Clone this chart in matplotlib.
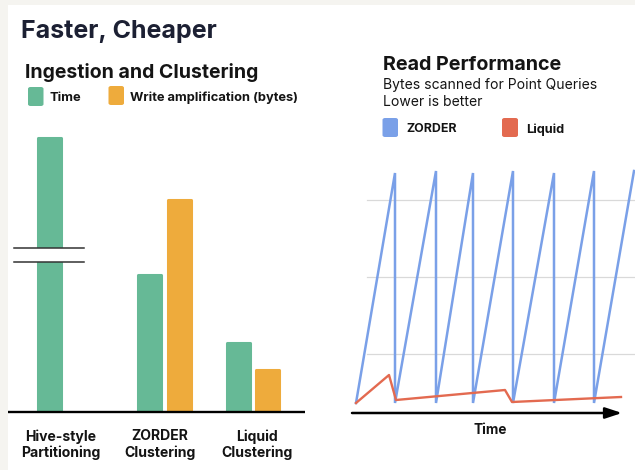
import matplotlib
matplotlib.use("Agg")
import matplotlib.pyplot as plt
from matplotlib.patches import Rectangle, FancyBboxPatch
import numpy as np

# ---------------- data ----------------
categories = ["Hive-style\nPartitioning", "ZORDER\nClustering", "Liquid\nClustering"]
time_vals = [276, 139, 71]          # Hive bar is drawn with an axis break
write_vals = [None, 214, 44]        # no write-amplification bar for Hive

zorder_t = [0, 39, 39, 80, 80, 117, 117, 157, 157, 198, 198, 238, 238, 278]
zorder_y = [10, 240, 10, 242, 10, 240, 10, 242, 10, 240, 10, 242, 10, 242]
liquid_t = [0, 33, 40, 149, 156, 265]
liquid_y = [10, 38, 13, 23, 11, 16]

gridlines = [59, 136, 213]

# ---------------- style ----------------
GREEN = "#66b996"
ORANGE = "#eeab3c"
BLUE = "#7aa0e8"
RED = "#e36a50"
NAVY = "#1c2033"
INK = "#141414"
FONT = ["Inter", "DejaVu Sans"]
plt.rcParams["font.family"] = FONT

W, H = 635, 470
fig = plt.figure(figsize=(W / 100, H / 100), dpi=100)
fig.patch.set_facecolor("white")


def px(x, y):
    return x / W, 1 - y / H


def ftext(x, y, s, **kw):
    fx, fy = px(x, y)
    kw.setdefault("va", "baseline")
    kw.setdefault("color", INK)
    fig.text(fx, fy, s, **kw)


def fbox(x0, y0, x1, y1, color):
    fx0, fy1 = px(x0, y1)
    fx1, fy0 = px(x1, y0)
    fig.patches.append(FancyBboxPatch((fx0, fy1), fx1 - fx0, fy0 - fy1,
                                      boxstyle="round,pad=0,rounding_size=0.004",
                                      transform=fig.transFigure, facecolor=color,
                                      edgecolor="none"))


# beige frame strips
fig.patches.append(Rectangle((0, 0), 8 / W, 1, transform=fig.transFigure,
                             facecolor="#f5f4f0", edgecolor="none", zorder=-5))
fig.patches.append(Rectangle((0, 1 - 5 / H), 1, 5 / H, transform=fig.transFigure,
                             facecolor="#f5f4f0", edgecolor="none", zorder=-5))

# titles
ftext(21, 38, "Faster, Cheaper", fontsize=18.0, fontweight="bold", color=NAVY)
ftext(25, 77.5, "Ingestion and Clustering", fontsize=14.0, fontweight="bold", color=INK)
ftext(383, 69.5, "Read Performance", fontsize=14.2, fontweight="bold", color=INK)
ftext(383, 88.5, "Bytes scanned for Point Queries", fontsize=10.05, color=INK)
ftext(383, 106, "Lower is better", fontsize=10.05, color=INK)

# legends
fbox(28, 87, 43.5, 106, GREEN)
ftext(50, 101, "Time", fontsize=9.3, fontweight="bold")
fbox(108.5, 86, 124, 105, ORANGE)
ftext(130, 101, "Write amplification (bytes)", fontsize=9.3, fontweight="bold")

fbox(382.5, 118, 398, 137, BLUE)
ftext(406, 132.5, "ZORDER", fontsize=8.9, fontweight="bold")
fbox(502, 118, 518, 137, RED)
ftext(526, 132.5, "Liquid", fontsize=9.2, fontweight="bold")

# ---------------- left: bar chart ----------------
axL = fig.add_axes([8 / W, (H - 412) / H, 302 / W, 312 / H])
axL.set_xlim(8, 310)
axL.set_ylim(0, 312)
axL.axis("off")

group_x = [49, 164.5, 253]
bw = 26
off = 14.75
for i, (t, w) in enumerate(zip(time_vals, write_vals)):
    if w is None:
        xs_t = group_x[i]
    else:
        xs_t = group_x[i] - off
        axL.bar(group_x[i] + off, w - 1.5, width=bw - 3, color=ORANGE,
                edgecolor=ORANGE, linewidth=2.2, joinstyle="round", zorder=2)
    axL.bar(xs_t, t - 1.5, width=bw - 3, color=GREEN, edgecolor=GREEN,
            linewidth=2.2, joinstyle="round", zorder=2)

# axis break on Hive bar
axL.add_patch(Rectangle((30, 150), 40, 14, facecolor="white", edgecolor="none", zorder=3))
for yb in (150, 164):
    axL.plot([14, 84], [yb, yb], color="#333333", lw=1.1, zorder=4)

# baseline
axL.plot([8, 305], [0, 0], color="black", lw=1.7, zorder=5, clip_on=False,
         solid_capstyle="butt")

label_x = [61, 160, 257]
for lx, cat in zip(label_x, categories):
    l1, l2 = cat.split("\n")
    ftext(lx, 440.5, l1, fontsize=10.1, fontweight="bold", ha="center")
    ftext(lx, 457.5, l2, fontsize=10.1, fontweight="bold", ha="center")

# ---------------- right: line chart ----------------
axR = fig.add_axes([345 / W, (H - 413) / H, 290 / W, 263 / H])
axR.set_xlim(-11, 279)
axR.set_ylim(0, 263)
axR.axis("off")

for g in gridlines:
    axR.axhline(g, xmin=22 / 290, xmax=1, color="#d9d9d9", lw=0.9, zorder=1)

axR.plot(zorder_t, zorder_y, color=BLUE, lw=1.8, zorder=2, solid_joinstyle="miter")
axR.plot(liquid_t, liquid_y, color=RED, lw=1.7, zorder=3)

axR.annotate("", xy=(266, 0), xytext=(-4, 0), annotation_clip=False,
             arrowprops=dict(arrowstyle="-|>,head_length=1.0,head_width=0.33",
                             mutation_scale=10, lw=1.8, color="black",
                             shrinkA=0, shrinkB=0))
ftext(490, 434, "Time", fontsize=9.8, fontweight="bold", ha="center")

fig.savefig("out.png", dpi=100, facecolor="white")
